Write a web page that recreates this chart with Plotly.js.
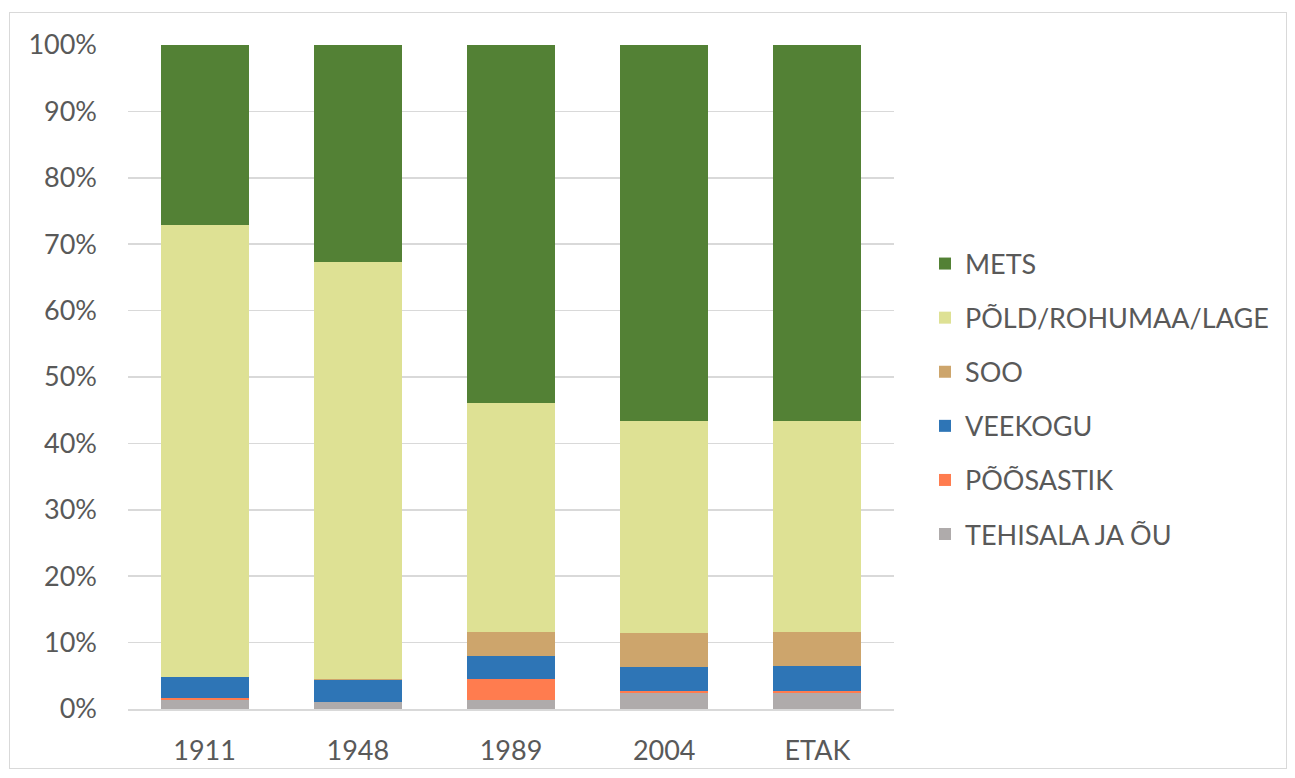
<!DOCTYPE html>
<html>
<head>
<meta charset="utf-8">
<script src="https://cdn.plot.ly/plotly-3.0.1.min.js"></script>
<style>
  html, body { margin: 0; padding: 0; background: #fff; }
  #frame { position: absolute; left: 9px; top: 12px; width: 1278px; height: 757px; border: 1px solid #d9d9d9; box-sizing: border-box; }
  #chart { position: absolute; left: 0; top: 0; width: 1295px; height: 778px; }
</style>
</head>
<body>
<div id="frame"></div>
<div id="chart"></div>
<script>
const categories = ["1911", "1948", "1989", "2004", "ETAK"];
const tehisala  = [1.35, 1.05, 1.3, 2.4, 2.4];
const poosastik = [0.3, 0.0, 3.15, 0.3, 0.3];
const veekogu   = [3.15, 3.25, 3.55, 3.65, 3.8];
const soo       = [0.05, 0.2, 3.6, 5.15, 5.15];
const pold      = [68.05, 62.8, 34.5, 31.9, 31.75];
const mets      = [27.1, 32.7, 53.9, 56.6, 56.6];

const seriesNames = ["TEHISALA JA ÕU", "PÕÕSASTIK", "VEEKOGU", "SOO", "PÕLD/ROHUMAA/LAGE", "METS"];
const seriesValues = [tehisala, poosastik, veekogu, soo, pold, mets];
const seriesColors = ["#afabab", "#ff7c4f", "#2e75b6", "#cda56c", "#dee194", "#538135"];

const font = "Lato, 'Open Sans', sans-serif";
const traces = seriesNames.map((n, i) => ({
  type: "bar",
  name: n,
  x: categories,
  y: seriesValues[i],
  legendgroup: "g" + i,
  legendrank: seriesNames.length - i,
  marker: { color: seriesColors[i], line: { width: 0 } },
  hoverinfo: "x+y+name"
}));

const layout = {
  width: 1295, height: 778,
  barmode: "stack",
  bargap: 0.425,
  paper_bgcolor: "rgba(0,0,0,0)",
  plot_bgcolor: "rgba(0,0,0,0)",
  margin: { l: 128, r: 401, t: 45, b: 69 },
  font: { family: font, size: 27, color: "#595959" },
  xaxis: {
    type: "category",
    showgrid: false,
    showline: true, linecolor: "#d9d9d9", linewidth: 2,
    ticks: "", ticklabelstandoff: 17,
    tickfont: { size: 27, color: "#595959" }
  },
  yaxis: {
    range: [0, 100],
    dtick: 10, ticksuffix: "%",
    showgrid: true, gridcolor: "#d9d9d9", gridwidth: 1.5,
    zeroline: false, showline: false,
    ticks: "", ticklabelstandoff: 30,
    tickfont: { size: 27, color: "#595959" }
  },
  legend: {
    traceorder: "grouped",
    tracegroupgap: 16,
    xref: "container", yref: "container",
    x: 925 / 1295, xanchor: "left",
    y: (778 - 399) / 778, yanchor: "middle",
    font: { size: 27, color: "#595959" },
    itemwidth: 30,
    bgcolor: "rgba(0,0,0,0)"
  },
  showlegend: true
};

Plotly.newPlot("chart", traces, layout, { displayModeBar: false, staticPlot: true });
</script>
</body>
</html>
